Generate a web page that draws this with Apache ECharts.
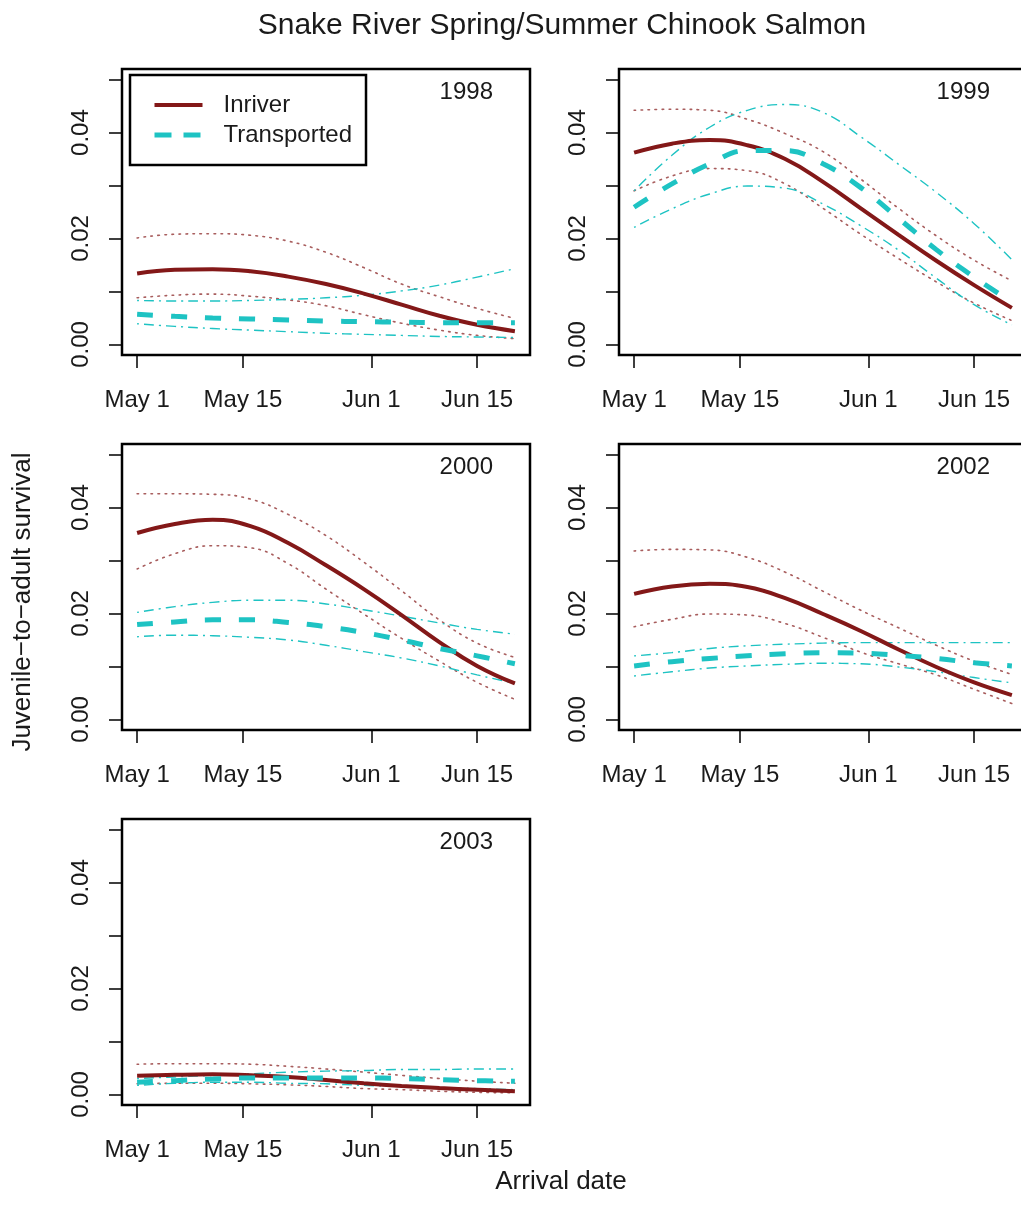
<!DOCTYPE html>
<html>
<head>
<meta charset="utf-8">
<title>Snake River Spring/Summer Chinook Salmon</title>
<script src="https://cdn.jsdelivr.net/npm/echarts@6/dist/echarts.min.js"></script>
<style>
  html, body { margin: 0; padding: 0; background: #fff; }
  #chart { width: 1021px; height: 1220px; }
</style>
</head>
<body>
<div id="chart"></div>
<script>
const days = [0, 5, 10, 15, 20, 25, 30, 35, 40, 45, 50];
const tickDays = [0, 14, 31, 45];
const tickLabels = ['May 1', 'May 15', 'Jun 1', 'Jun 15'];
const yTicks = [0, 0.01, 0.02, 0.03, 0.04, 0.05];
const yLabels = [0, 0.02, 0.04];
const years = ['1998', '1999', '2000', '2002', '2003'];

const inriver1998     = [0.0134, 0.0141, 0.0142, 0.0138, 0.0128, 0.0114, 0.0096, 0.0075, 0.0054, 0.0037, 0.0025];
const inriverHi1998   = [0.0201, 0.0208, 0.0209, 0.0206, 0.0195, 0.0174, 0.0145, 0.0114, 0.0090, 0.0068, 0.0049];
const inriverLo1998   = [0.0088, 0.0093, 0.0095, 0.0091, 0.0084, 0.0073, 0.0056, 0.0040, 0.0027, 0.0017, 0.0011];
const transp1998      = [0.0057, 0.0053, 0.0050, 0.0048, 0.0046, 0.0044, 0.0043, 0.0042, 0.0041, 0.0041, 0.0041];
const transpHi1998    = [0.0083, 0.0082, 0.0082, 0.0083, 0.0085, 0.0088, 0.0093, 0.0101, 0.0112, 0.0127, 0.0143];
const transpLo1998    = [0.0039, 0.0034, 0.0030, 0.0027, 0.0024, 0.0021, 0.0019, 0.0017, 0.0015, 0.0014, 0.0013];

const inriver1999     = [0.0362, 0.0379, 0.0386, 0.0376, 0.0350, 0.0307, 0.0257, 0.0207, 0.0158, 0.0112, 0.0069];
const inriverHi1999   = [0.0442, 0.0444, 0.0442, 0.0425, 0.0398, 0.0364, 0.0312, 0.0257, 0.0205, 0.0159, 0.0120];
const inriverLo1999   = [0.0290, 0.0318, 0.0332, 0.0328, 0.0303, 0.0257, 0.0208, 0.0162, 0.0118, 0.0078, 0.0045];
const transp1999      = [0.0259, 0.0303, 0.0341, 0.0366, 0.0366, 0.0341, 0.0296, 0.0238, 0.0179, 0.0127, 0.0080];
const transpHi1999    = [0.0290, 0.0357, 0.0410, 0.0442, 0.0453, 0.0438, 0.0392, 0.0340, 0.0287, 0.0228, 0.0160];
const transpLo1999    = [0.0221, 0.0256, 0.0284, 0.0299, 0.0295, 0.0265, 0.0224, 0.0178, 0.0125, 0.0075, 0.0037];

const inriver2000     = [0.0352, 0.0369, 0.0377, 0.0365, 0.0333, 0.0291, 0.0246, 0.0197, 0.0146, 0.0101, 0.0068];
const inriverHi2000   = [0.0426, 0.0426, 0.0425, 0.0416, 0.0387, 0.0347, 0.0297, 0.0243, 0.0188, 0.0144, 0.0117];
const inriverLo2000   = [0.0284, 0.0313, 0.0328, 0.0324, 0.0294, 0.0246, 0.0199, 0.0153, 0.0110, 0.0070, 0.0038];
const transp2000      = [0.0179, 0.0184, 0.0188, 0.0188, 0.0183, 0.0175, 0.0164, 0.0150, 0.0134, 0.0120, 0.0105];
const transpHi2000    = [0.0202, 0.0213, 0.0221, 0.0225, 0.0225, 0.0218, 0.0207, 0.0195, 0.0182, 0.0170, 0.0161];
const transpLo2000    = [0.0156, 0.0159, 0.0158, 0.0155, 0.0150, 0.0140, 0.0128, 0.0116, 0.0101, 0.0084, 0.0068];

const inriver2002     = [0.0237, 0.0251, 0.0256, 0.0250, 0.0229, 0.0199, 0.0167, 0.0132, 0.0099, 0.0070, 0.0046];
const inriverHi2002   = [0.0318, 0.0321, 0.0320, 0.0306, 0.0278, 0.0242, 0.0206, 0.0173, 0.0140, 0.0110, 0.0085];
const inriverLo2002   = [0.0175, 0.0189, 0.0199, 0.0197, 0.0181, 0.0155, 0.0127, 0.0105, 0.0084, 0.0057, 0.0030];
const transp2002      = [0.0101, 0.0109, 0.0115, 0.0120, 0.0124, 0.0126, 0.0125, 0.0121, 0.0115, 0.0107, 0.0101];
const transpHi2002    = [0.0120, 0.0126, 0.0134, 0.0139, 0.0142, 0.0144, 0.0145, 0.0145, 0.0145, 0.0145, 0.0145];
const transpLo2002    = [0.0082, 0.0090, 0.0097, 0.0101, 0.0104, 0.0106, 0.0105, 0.0099, 0.0090, 0.0079, 0.0069];

const inriver2003     = [0.0035, 0.0037, 0.0038, 0.0036, 0.0033, 0.0027, 0.0021, 0.0016, 0.0012, 0.0009, 0.0006];
const inriverHi2003   = [0.0057, 0.0058, 0.0058, 0.0057, 0.0053, 0.0048, 0.0042, 0.0036, 0.0030, 0.0025, 0.0021];
const inriverLo2003   = [0.0020, 0.0021, 0.0021, 0.0020, 0.0018, 0.0015, 0.0011, 0.0009, 0.0006, 0.0004, 0.0003];
const transp2003      = [0.0023, 0.0026, 0.0029, 0.0031, 0.0031, 0.0031, 0.0031, 0.0030, 0.0028, 0.0026, 0.0025];
const transpHi2003    = [0.0030, 0.0033, 0.0036, 0.0039, 0.0042, 0.0044, 0.0045, 0.0047, 0.0047, 0.0048, 0.0048];
const transpLo2003    = [0.0017, 0.0021, 0.0023, 0.0023, 0.0021, 0.0020, 0.0017, 0.0015, 0.0013, 0.0011, 0.0009];

const panels = [
  {inriver: inriver1998, inHi: inriverHi1998, inLo: inriverLo1998, tr: transp1998, trHi: transpHi1998, trLo: transpLo1998},
  {inriver: inriver1999, inHi: inriverHi1999, inLo: inriverLo1999, tr: transp1999, trHi: transpHi1999, trLo: transpLo1999},
  {inriver: inriver2000, inHi: inriverHi2000, inLo: inriverLo2000, tr: transp2000, trHi: transpHi2000, trLo: transpLo2000},
  {inriver: inriver2002, inHi: inriverHi2002, inLo: inriverLo2002, tr: transp2002, trHi: transpHi2002, trLo: transpLo2002},
  {inriver: inriver2003, inHi: inriverHi2003, inLo: inriverLo2003, tr: transp2003, trHi: transpHi2003, trLo: transpLo2003}
];

const FONT = "'Liberation Sans', Arial, Helvetica, sans-serif";
const INK = '#1a1a1a';
const RED = '#831818';
const CYAN = '#1ec3c3';

// panel boxes: [left, top]
const boxes = [[122, 69], [619, 69], [122, 444], [619, 444], [122, 819]];
const BOX_W = 408, BOX_H = 286;

const grids = [], xAxes = [], yAxes = [], series = [], texts = [];

boxes.forEach(([left, top], i) => {
  grids.push({
    left: left, top: top, width: BOX_W, height: BOX_H,
    show: true, borderColor: '#000', borderWidth: 2.5,
    backgroundColor: 'transparent', outerBoundsMode: 'none'
  });
  xAxes.push({
    type: 'value', gridIndex: i, min: -2, max: 52, position: 'bottom',
    axisLine: {show: false, onZero: false},
    splitLine: {show: false},
    axisTick: {show: true, inside: false, customValues: tickDays, length: 13, lineStyle: {color: '#000', width: 1.5}},
    axisLabel: {
      customValues: tickDays, margin: 33, fontSize: 24, fontFamily: FONT, color: INK,
      formatter: v => tickLabels[tickDays.indexOf(v)]
    }
  });
  yAxes.push({
    type: 'value', gridIndex: i, min: -0.002, max: 0.052, position: 'left',
    axisLine: {show: false, onZero: false},
    splitLine: {show: false},
    axisTick: {show: true, inside: false, customValues: yTicks, length: 13, lineStyle: {color: '#000', width: 1.5}},
    axisLabel: {
      customValues: yLabels, rotate: 90, margin: 29, fontSize: 24, fontFamily: FONT, color: INK,
      formatter: v => v.toFixed(2)
    }
  });

  const p = panels[i];
  const mk = (name, ys, lineStyle, z) => ({
    type: 'line', name: name, xAxisIndex: i, yAxisIndex: i,
    data: days.map((d, k) => [d, ys[k]]),
    symbol: 'none', showSymbol: false, smooth: 0.45, silent: true, z: z,
    lineStyle: lineStyle
  });
  const dotted = {color: RED, width: 1.6, type: [1.6, 5.4], cap: 'round', opacity: 0.7};
  const dotdash = {color: CYAN, width: 1.4, type: [2, 5, 10, 5]};
  series.push(mk('Inriver upper', p.inHi, dotted, 2));
  series.push(mk('Inriver lower', p.inLo, dotted, 2));
  series.push(mk('Transported upper', p.trHi, dotdash, 2));
  series.push(mk('Transported lower', p.trLo, dotdash, 2));
  series.push(mk('Inriver', p.inriver, {color: RED, width: 4}, 3));
  series.push(mk('Transported', p.tr, {color: CYAN, width: 5, type: [16, 18]}, 4));

  texts.push({
    type: 'text', x: left + BOX_W - 37, y: top + 23,
    style: {text: years[i], font: '24px ' + FONT, fill: INK, textAlign: 'right', textVerticalAlign: 'middle'}
  });
});

texts.push({
  type: 'text', x: 562, y: 26,
  style: {text: 'Snake River Spring/Summer Chinook Salmon', font: '30px ' + FONT, fill: INK,
          textAlign: 'center', textVerticalAlign: 'middle'}
});
texts.push({
  type: 'text', x: 561, y: 1182,
  style: {text: 'Arrival date', font: '26px ' + FONT, fill: INK, textAlign: 'center', textVerticalAlign: 'middle'}
});
texts.push({
  type: 'text', x: 23, y: 602, rotation: Math.PI / 2,
  style: {text: 'Juvenile\u2212to\u2212adult survival', font: '26px ' + FONT, fill: INK,
          textAlign: 'center', textVerticalAlign: 'middle'}
});

const chart = echarts.init(document.getElementById('chart'), null, {renderer: 'canvas'});
chart.setOption({
  animation: false,
  backgroundColor: '#fff',
  grid: grids,
  xAxis: xAxes,
  yAxis: yAxes,
  legend: {
    data: [
      {name: 'Inriver', lineStyle: {width: 4, color: RED}},
      {name: 'Transported', lineStyle: {width: 5, color: CYAN, type: [17, 12]}}
    ],
    orient: 'vertical', left: 130, top: 75,
    padding: [18, 14, 18, 22],
    borderColor: '#000', borderWidth: 2.5,
    itemWidth: 48, itemHeight: 14, itemGap: 6,
    selectedMode: false,
    itemStyle: {opacity: 0},
    textStyle: {fontSize: 24, fontFamily: FONT, color: INK, lineHeight: 24, padding: [0, 0, 0, 16]}
  },
  series: series,
  graphic: texts
});
</script>
</body>
</html>
